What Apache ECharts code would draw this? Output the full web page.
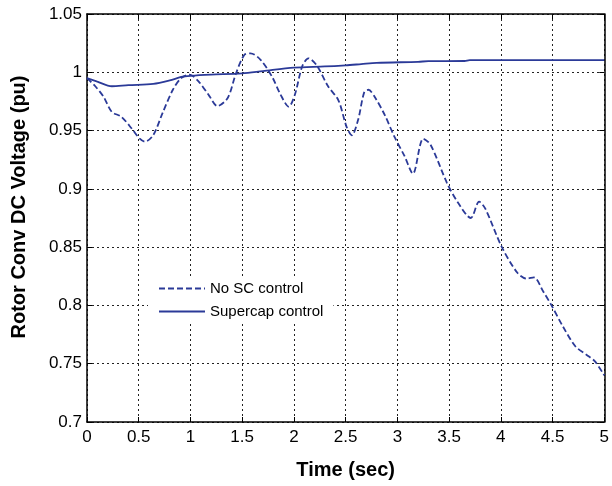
<!DOCTYPE html>
<html>

<head>
    <meta charset="utf-8">
    <title>Rotor Conv DC Voltage</title>
    <script src="https://cdn.jsdelivr.net/npm/echarts@6/dist/echarts.min.js"></script>
</head>

<body style="margin:0">
    <div id="main" style="width: 612px;height:486px;"></div>
    <script type="text/javascript">
        // time (sec) and voltage (pu)
        var timeNoSC = [0, 0.08, 0.16, 0.24, 0.33, 0.43, 0.51, 0.56, 0.64, 0.73, 0.83, 0.91, 0.99,
            1.08, 1.18, 1.26, 1.36, 1.44, 1.52, 1.58, 1.68, 1.79, 1.87, 1.95, 2.01, 2.08, 2.14,
            2.22, 2.33, 2.43, 2.51, 2.56, 2.62, 2.68, 2.72, 2.78, 2.88, 2.97, 3.07, 3.15, 3.25,
            3.32, 3.48, 3.58, 3.71, 3.79, 3.85, 4.01, 4.16, 4.25, 4.32, 4.41, 4.49, 4.60, 4.72,
            4.83, 4.91, 5.0];
        var voltNoSC = [0.995, 0.988, 0.979, 0.966, 0.962, 0.952, 0.943, 0.9405, 0.946, 0.965, 0.985, 0.995, 0.998,
            0.992, 0.980, 0.971, 0.978, 0.999, 1.0148, 1.0163, 1.0105, 0.996, 0.981, 0.9705, 0.981, 1.005, 1.012,
            1.006, 0.988, 0.976, 0.953, 0.946, 0.959, 0.983, 0.985, 0.979, 0.963, 0.945, 0.928, 0.913, 0.943,
            0.938, 0.905, 0.889, 0.875, 0.889, 0.883, 0.850, 0.828, 0.823, 0.824, 0.812, 0.800, 0.782, 0.765,
            0.7575, 0.752, 0.740];

        var timeSC = [0, 0.1, 0.24, 0.4, 0.64, 0.8, 0.91, 1.0, 1.2, 1.5, 1.7, 2.0, 2.3, 2.5, 2.65,
            2.8, 3.2, 3.3, 3.65, 3.7, 4.0, 4.5, 5.0];
        var voltSC = [0.995, 0.992, 0.988, 0.989, 0.990, 0.993, 0.996, 0.997, 0.998, 0.999, 1.001, 1.004, 1.005, 1.006, 1.007,
            1.008, 1.009, 1.0095, 1.0097, 1.0105, 1.0105, 1.0105, 1.0105];

        var seriesNames = ['No SC control', 'Supercap control'];

        function pairs(xs, ys) {
            return xs.map(function (x, i) { return [x, ys[i]]; });
        }

        var lineColor = '#2b3a98';
        var gridLine = { show: true, lineStyle: { color: '#222', type: [2, 3], width: 1 } };
        var tickIn = { show: true, inside: true, length: 5, lineStyle: { color: '#000' } };
        var frame = { show: true, onZero: false, lineStyle: { color: '#000', width: 1.5 } };
        var labelFont = { fontFamily: 'Liberation Sans', fontSize: 17, color: '#000' };
        var nameFont = { fontFamily: 'Liberation Sans', fontSize: 20, fontWeight: 'bold', color: '#000' };

        var myChart = echarts.init(document.getElementById('main'));

        var option = {
            animation: false,
            backgroundColor: '#fff',
            grid: { left: 87, right: 4, top: 14, bottom: 64 },
            legend: {
                data: seriesNames,
                orient: 'vertical',
                left: 148,
                top: 277,
                backgroundColor: '#fff',
                padding: [4, 10, 4, 10],
                itemWidth: 46,
                itemHeight: 14,
                itemGap: 8,
                itemStyle: { opacity: 0 },
                textStyle: { fontFamily: 'Liberation Sans', fontSize: 15, color: '#000' }
            },
            xAxis: [{
                type: 'value', min: 0, max: 5, interval: 0.5,
                name: 'Time (sec)', nameLocation: 'middle', nameGap: 38, nameTextStyle: nameFont,
                axisLine: frame, axisTick: tickIn, splitLine: gridLine,
                axisLabel: Object.assign({ margin: 7 }, labelFont)
            }, {
                type: 'value', min: 0, max: 5, interval: 0.5, position: 'top',
                axisLine: frame, axisTick: tickIn, splitLine: { show: false }, axisLabel: { show: false }
            }],
            yAxis: [{
                type: 'value', min: 0.7, max: 1.05, interval: 0.05,
                name: 'Rotor Conv DC Voltage (pu)', nameLocation: 'middle', nameGap: 58,
                nameTextStyle: Object.assign({ padding: [0, 0, 0, 22] }, nameFont),
                axisLine: frame, axisTick: tickIn, splitLine: gridLine,
                axisLabel: Object.assign({ margin: 5 }, labelFont)
            }, {
                type: 'value', min: 0.7, max: 1.05, interval: 0.05, position: 'right',
                axisLine: frame, axisTick: tickIn, splitLine: { show: false }, axisLabel: { show: false }
            }],
            series: [{
                name: seriesNames[0],
                type: 'line',
                symbol: 'none',
                smooth: 0.3,
                data: pairs(timeNoSC, voltNoSC),
                lineStyle: { color: lineColor, width: 1.8, type: [6, 3] },
                itemStyle: { color: lineColor }
            }, {
                name: seriesNames[1],
                type: 'line',
                symbol: 'none',
                smooth: 0.3,
                data: pairs(timeSC, voltSC),
                lineStyle: { color: lineColor, width: 1.8 },
                itemStyle: { color: lineColor }
            }]
        };

        myChart.setOption(option);
    </script>
</body>

</html>
